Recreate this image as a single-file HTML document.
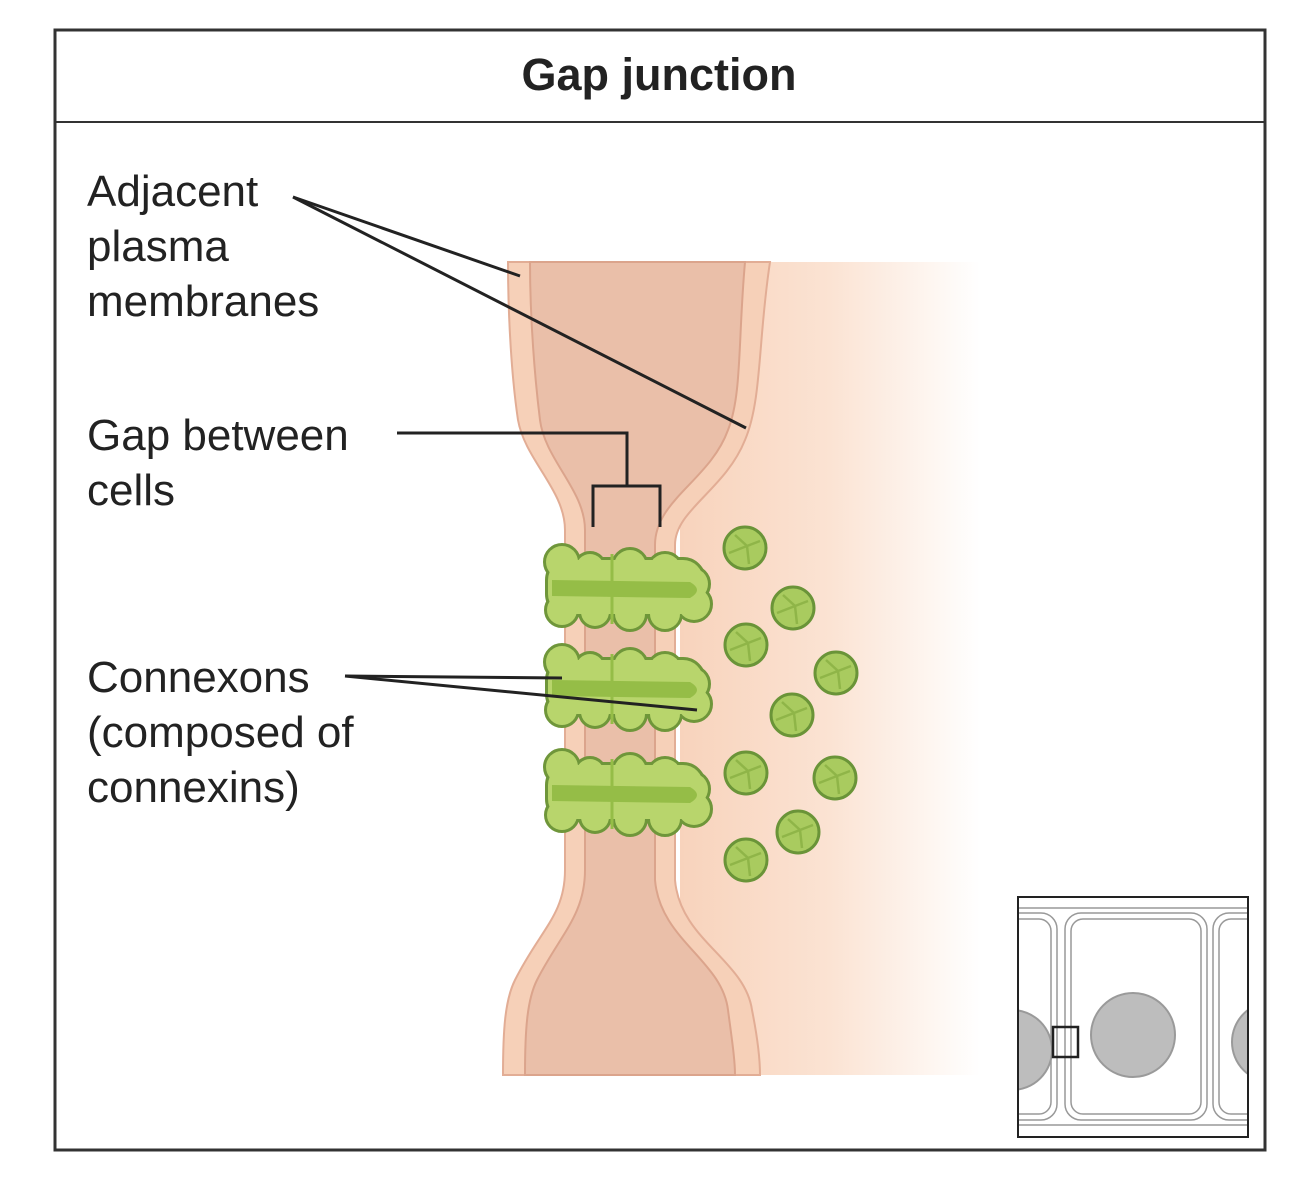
<!DOCTYPE html>
<html><head><style>
body{margin:0;background:#fff;}
svg{display:block;}
text{font-family:"Liberation Sans",sans-serif;fill:#222;}
</style></head><body>
<svg width="1312" height="1200" viewBox="0 0 1312 1200" xmlns="http://www.w3.org/2000/svg">
<defs>
<linearGradient id="rc" x1="0" x2="1" y1="0" y2="0">
<stop offset="0" stop-color="#f8d3bc"/><stop offset="0.5" stop-color="#fbe3d3"/><stop offset="1" stop-color="#ffffff"/>
</linearGradient>
<g id="cxs">
<rect x="548" y="560" width="155" height="54" rx="20"/>
<circle cx="562" cy="562" r="16"/><circle cx="590" cy="568" r="14"/><circle cx="630" cy="566" r="16"/><circle cx="665" cy="570" r="16"/><circle cx="692" cy="584" r="16"/>
<circle cx="562" cy="610" r="15"/><circle cx="595" cy="612" r="14"/><circle cx="630" cy="614" r="15"/><circle cx="665" cy="614" r="15"/><circle cx="694" cy="604" r="16"/>
</g>
<g id="cx">
<use href="#cxs" fill="#6f963a" stroke="#6f963a" stroke-width="6"/>
<use href="#cxs" fill="#b8d56c"/>
<path d="M552,580 L690,582 Q704,590 690,598 L552,596 z" fill="#95bd47"/>
<line x1="612" y1="554" x2="612" y2="624" stroke="#95bd47" stroke-width="3"/>
</g>
<g id="dot">
<circle r="21" fill="#a9cb5f" stroke="#6a9438" stroke-width="3"/>
<path d="M-10,-13 L2,-2 L4,16 M2,-2 L15,-7 M-16,5 L2,-2" stroke="#8fb548" stroke-width="2.5" fill="none"/>
</g>
</defs>
<rect x="55" y="30" width="1210" height="1120" fill="#fff" stroke="#333" stroke-width="3"/>
<line x1="55" y1="122" x2="1265" y2="122" stroke="#333" stroke-width="2"/>
<text x="659" y="90" font-size="45" font-weight="bold" text-anchor="middle">Gap junction</text>
<rect x="680" y="262" width="300" height="813" fill="url(#rc)"/>
<path d="M770,262 C758,340 762,400 745,440 C725,490 675,510 675,545 L675,880 C680,940 745,960 752,1010 C758,1040 760,1060 760,1075 L503,1075 C503,1030 505,1000 515,980 C540,930 565,915 565,870 L565,530 C565,490 525,460 518,420 C512,380 508,320 508,262 Z" fill="#f6d0b8" stroke="#e2ad95" stroke-width="2"/>
<path d="M745,262 C738,340 742,395 728,430 C710,480 655,500 655,545 L655,880 C660,940 722,960 728,1010 C732,1040 735,1060 735,1075 L525,1075 C525,1030 527,1000 537,980 C560,935 585,915 585,870 L585,530 C585,490 545,460 540,420 C535,380 530,320 530,262 Z" fill="#eabfa9" stroke="#dba48c" stroke-width="2"/>
<use href="#cx"/>
<use href="#cx" y="100"/>
<use href="#cx" y="205"/>
<use href="#dot" x="745" y="548"/>
<use href="#dot" x="793" y="608"/>
<use href="#dot" x="746" y="645"/>
<use href="#dot" x="836" y="673"/>
<use href="#dot" x="792" y="715"/>
<use href="#dot" x="746" y="773"/>
<use href="#dot" x="835" y="778"/>
<use href="#dot" x="798" y="832"/>
<use href="#dot" x="746" y="860"/>
<g font-size="44">
<text x="87" y="206">Adjacent</text>
<text x="87" y="261">plasma</text>
<text x="87" y="316">membranes</text>
<text x="87" y="450">Gap between</text>
<text x="87" y="505">cells</text>
<text x="87" y="692">Connexons</text>
<text x="87" y="747">(composed of</text>
<text x="87" y="802">connexins)</text>
</g>
<g stroke="#222" stroke-width="3" fill="none">
<line x1="293" y1="197" x2="520" y2="276"/>
<line x1="293" y1="197" x2="746" y2="428"/>
<polyline points="397,433 627,433 627,486"/>
<polyline points="593,527 593,486 660,486 660,527"/>
<line x1="345" y1="676" x2="562" y2="678"/>
<line x1="345" y1="676" x2="697" y2="710"/>
</g>
<svg x="1017" y="896" width="232" height="242" viewBox="1017 896 232 242">
<rect x="1017" y="896" width="232" height="242" fill="#fff"/>
<g fill="none" stroke="#999" stroke-width="1.5">
<line x1="1017" y1="908" x2="1249" y2="908"/><line x1="1017" y1="1125" x2="1249" y2="1125"/>
<rect x="1065" y="913" width="142" height="207" rx="16"/>
<rect x="1071" y="919" width="130" height="195" rx="12"/>
<rect x="960" y="913" width="97" height="207" rx="16"/>
<rect x="960" y="919" width="91" height="195" rx="12"/>
<rect x="1213" y="913" width="100" height="207" rx="16"/>
<rect x="1219" y="919" width="90" height="195" rx="12"/>
</g>
<circle cx="1133" cy="1035" r="42" fill="#bdbdbd" stroke="#9a9a9a" stroke-width="2"/>
<circle cx="1012" cy="1050" r="40" fill="#bdbdbd" stroke="#9a9a9a" stroke-width="2"/>
<circle cx="1272" cy="1042" r="40" fill="#bdbdbd" stroke="#9a9a9a" stroke-width="2"/>
<rect x="1053" y="1027" width="25" height="30" fill="none" stroke="#222" stroke-width="2.5"/>
<rect x="1017" y="896" width="232" height="242" fill="none" stroke="#222" stroke-width="4"/>
</svg>
</svg>
</body></html>
